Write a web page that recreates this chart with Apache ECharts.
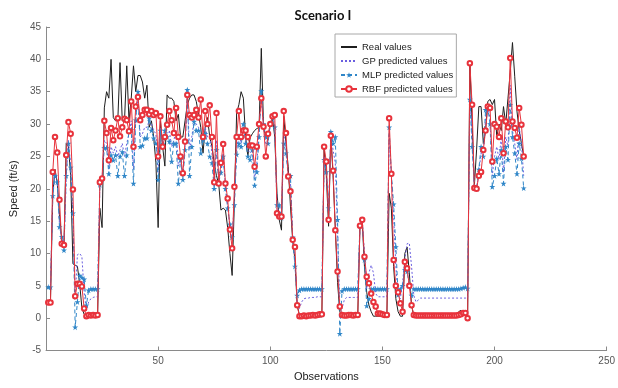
<!DOCTYPE html>
<html><head><meta charset="utf-8">
<script src="https://cdn.jsdelivr.net/npm/echarts@6/dist/echarts.min.js"></script>
<style>html,body{margin:0;padding:0;background:#fff}#c{width:618px;height:388px}</style>
</head><body><div id="c"></div><script>
const realValues = [
2.5, 3, 19, 23, 21, 16, 12, 11, 27, 26.5,
22, 8.4, 8.2, 8, 5.3, 1.6, 0.6, 0.3, 0.3, 0.3,
0.3, 0.3, 0.3, 17, 14, 32.5, 35, 34, 40, 31,
30.5, 30.5, 39.5, 30.5, 30.5, 39, 30.5, 34, 39, 35,
37.5, 37.5, 36.5, 34, 36, 29.5, 30.5, 28, 24, 14,
30.5, 26.5, 23.5, 34.5, 34, 34, 33.5, 30.5, 31.5, 28,
28, 30.5, 33, 34, 34.5, 34.5, 33.5, 31.5, 29.5, 25.5,
29.5, 31, 28, 26.5, 24, 22, 20.8, 16.7, 17, 16.7,
14, 10, 6.6, 18, 31.7, 33, 35, 34, 28, 25,
27.9, 28.5, 29, 29.3, 29.5, 41.7, 29.6, 28, 27.5, 30,
30.9, 28, 19.3, 15.2, 13.6, 31.2, 27, 23.4, 17.3, 12,
9, 2, 0.5, 0.2, 0.2, 0.2, 0.2, 0.2, 0.2, 0.2,
0.2, 0.2, 0.2, 26.2, 22, 14.2, 28.4, 22, 14, 5.5,
1, 0.2, 0.2, 0.2, 0.2, 0.2, 0.2, 0.2, 0.2, 14.5,
15, 8, 4, 2, 1, 0.3, 0.3, 0.3, 0.3, 0.3,
0.3, 0.3, 19.3, 17, 8, 3, 1, 0.3, 0.3, 10,
11, 7, 2, 0.3, 0.2, 0.2, 0.2, 0.2, 0.2, 0.2,
0.2, 0.2, 0.2, 0.2, 0.2, 0.2, 0.2, 0.2, 0.2, 0.2,
0.2, 0.2, 0.2, 1, 1.2, 0.8, 0.3, 0.2, 39.4, 30,
20.5, 26, 32.7, 32.7, 27, 29, 33.5, 33.8, 33, 33.8,
28, 30, 29, 32.7, 30, 34, 38, 42.6, 37.4, 32,
29, 27, 25
];
const gpValues = [
4.8, 5, 19, 22.5, 21, 14.5, 12.5, 11, 21.5, 27.5,
23.5, 16, 3, 9.8, 10, 9.5, 4, 1.2, 2.5, 3,
3.2, 3.3, 3.3, 20.5, 21.5, 27.5, 27, 23, 26.5, 25.5,
26.5, 25, 26, 27, 25, 27, 28.5, 30.5, 23, 31,
34, 28, 28.5, 29.5, 29.5, 30.5, 30, 29, 28.5, 22.5,
29.5, 27, 28.5, 28.5, 29, 26.5, 27.5, 29, 23.5, 24.5,
22, 26.5, 34.5, 26, 28, 30.5, 30, 29.5, 28.5, 27.5,
29.5, 28, 28, 25.5, 21, 27.5, 21, 23, 25.5, 20.5,
17.5, 14, 12, 18.5, 26, 28.5, 27, 29.5, 28, 26,
25.5, 26, 21.5, 24, 28.5, 34.5, 29.5, 27, 27.5, 30,
31, 30, 17, 16.5, 15.5, 29, 26.5, 22, 21, 12.5,
9, 2.5, 1.5, 2.5, 3, 3.1, 3.1, 3.2, 3.2, 3.2,
3.3, 3.3, 3.3, 25, 23, 16, 28.5, 26, 24, 13,
2, 1.5, 2.8, 3.2, 3.2, 3.2, 3.2, 3.2, 3.2, 14.5,
15, 10, 4.5, 7, 8.2, 7, 3.8, 3.3, 3.3, 3.3,
3.3, 3.3, 28.5, 22, 16, 8, 3.5, 3, 5.5, 9,
11.5, 11.6, 8, 3.5, 2.5, 2.8, 3.1, 3.1, 3.1, 3.1,
3.1, 3.1, 3.1, 3.1, 3.1, 3.1, 3.1, 3.1, 3.1, 3.1,
3.1, 3.1, 3.1, 3.1, 3.1, 3.1, 3.1, 3.1, 34.5, 28,
20.5, 20, 22.5, 25.5, 25.5, 31, 32.5, 31, 22, 25,
26.5, 24.5, 28, 22.5, 28, 26.5, 36, 29, 27, 24.5,
29.5, 27, 22
];
const mlpValues = [
4.8, 4.8, 18.9, 22, 21, 14.1, 12.6, 10.5, 22, 27,
23.3, 16.2, -1.4, 2.5, 6.6, 6.3, 6, 2, 4.3, 4.5,
4.5, 4.5, 4.5, 20.6, 21.5, 26.3, 26.3, 22.3, 25.2, 24.4,
25.2, 22, 25, 25.7, 22, 25.2, 29.1, 29.1, 20.8, 30.6,
35, 26.5, 26.7, 27.8, 27.8, 30.9, 29, 27.8, 27, 21.4,
29, 27, 29, 28, 27.3, 24.2, 27, 27, 20.8, 24.5,
21.4, 26, 35.3, 22, 26.5, 30.4, 29, 29, 25.5, 27.5,
28.5, 27, 25, 24, 20, 26, 21, 22.5, 25, 20,
17, 14.5, 12.5, 17.5, 25.3, 27, 26.5, 30, 27, 25,
24.5, 26, 20.5, 22.6, 28, 35.1, 30, 28, 27, 30,
31, 29.5, 17.5, 17.5, 15.5, 27, 25.5, 22, 22, 12.5,
8, 3.5, 4.3, 4.5, 4.5, 4.5, 4.5, 4.5, 4.5, 4.5,
4.5, 4.5, 4.5, 24.5, 22.6, 17, 28.8, 27, 28, 15.2,
-2.4, 4.2, 4.5, 4.5, 4.5, 4.5, 4.5, 4.5, 4.5, 14.3,
15.2, 9, 1.9, 3, 4.5, 4.5, 4.5, 4.5, 4.5, 4.5,
4.5, 4.5, 29.5, 22.3, 17.6, 11, 3.6, 4.5, 5, 7.5,
7.2, 5, 3.5, 4.5, 4.5, 4.5, 4.5, 4.5, 4.5, 4.5,
4.5, 4.5, 4.5, 4.5, 4.5, 4.5, 4.5, 4.5, 4.5, 4.5,
4.5, 4.5, 4.5, 4.5, 4.6, 4.7, 4.8, 4.6, 33.8, 26.5,
20.3, 20, 23, 26.5, 25, 32.2, 32.5, 30, 20.3, 22,
24.7, 22.3, 26, 20.8, 26.5, 24.5, 33, 28, 25.5, 22.3,
27, 24.7, 20.1
];
const rbfValues = [
2.4, 2.4, 22.6, 28, 25.6, 18.3, 11.5, 11.3, 25.2, 30.3,
28.5, 19.9, 3.4, 5.3, 5.3, 4.9, 1.5, 0.3, 0.5, 0.4,
0.5, 0.4, 0.5, 21, 21.6, 30.5, 28.6, 24.4, 29.4, 27.5,
29, 30.9, 28.1, 29.5, 30.8, 30.6, 28.9, 33.5, 26.5, 32.7,
34.2, 30.6, 31.4, 32.2, 32.2, 31.5, 32, 31.4, 31.7, 25,
31.2, 26.5, 28, 29.9, 32, 30.6, 28.6, 32.5, 28, 25,
22.4, 27.3, 34.5, 31.4, 31, 31.4, 32.2, 31, 33.8, 28,
32, 30, 32.9, 28, 21, 31.7, 20.8, 24, 26.9, 20.8,
18.5, 13.7, 10.8, 20.3, 28, 32, 28, 29, 29, 28,
26.7, 26.7, 23.4, 26.5, 30, 34, 29.6, 25, 28.5, 30,
31.2, 31.4, 16.2, 15.7, 15.7, 32, 28.6, 21.9, 19.6, 12.1,
11, 2, 0.3, 0.3, 0.4, 0.3, 0.4, 0.4, 0.5, 0.4,
0.5, 0.6, 0.6, 26.5, 24.2, 15.2, 28.2, 22.8, 13.6, 7.2,
1.8, 0.5, 0.4, 0.4, 0.5, 0.5, 0.4, 0.5, 0.5, 14.3,
15.2, 9.5, 6.4, 5.4, 3.8, 2.5, 1.8, 0.7, 0.7, 0.6,
0.5, 0.5, 30.9, 22.3, 9, 5, 4, 2.3, 1, 8.7,
7.7, 5, 2, 0.5, 0.4, 0.4, 0.4, 0.4, 0.4, 0.4,
0.4, 0.4, 0.4, 0.4, 0.4, 0.4, 0.4, 0.4, 0.4, 0.4,
0.4, 0.4, 0.4, 0.5, 0.6, 0.8, 0.8, 0, 39.4, 33,
20.1, 20, 22, 22.6, 26, 29, 32.7, 32.5, 24.2, 30,
29.6, 28, 30.9, 25.5, 30.4, 29.5, 40.2, 30.4, 29.4, 27.9,
32.5, 29.9, 25
];
const seriesNames = ['Real values', 'GP predicted values', 'MLP predicted values', 'RBF predicted values'];
const xRange = [0, 250, 50];
const yRange = [-5, 45, 5];

const observations = realValues.map((_, i) => i + 1);
const pairs = arr => arr.map((v, i) => [observations[i], v]);
const star = 'path://M50,0 L61.2,34.5 L97.6,34.5 L68.2,55.9 L79.4,90.5 L50,69.1 L20.6,90.5 L31.8,55.9 L2.4,34.5 L38.8,34.5 Z';
const FONT = '"Liberation Sans", Arial, sans-serif';

const chart = echarts.init(document.getElementById('c'), null, {renderer: 'canvas'});
chart.setOption({
  animation: false,
  backgroundColor: '#fff',
  graphic: [{
    type: 'text', x: 323, y: 15.5,
    style: {text: 'Scenario I', font: 'bold 13px Lato, "Open Sans", sans-serif', fill: '#111',
      align: 'center', verticalAlign: 'middle', textAlign: 'center', textVerticalAlign: 'middle'}
  }],
  grid: {left: 37, right: 9.5, top: 27, bottom: 37.5, containLabel: false},
  legend: {
    orient: 'vertical', left: 335, top: 34,
    data: [
      {name: seriesNames[0], itemStyle: {opacity: 0}},
      {name: seriesNames[1], itemStyle: {opacity: 0}},
      {name: seriesNames[2]},
      {name: seriesNames[3]}
    ],
    backgroundColor: '#fff', borderColor: '#a8a8a8', borderWidth: 1, borderRadius: 0,
    padding: [8, 3, 3, 5], itemGap: 4, itemWidth: 16, itemHeight: 7,
    textStyle: {fontFamily: FONT, fontSize: 9.5, color: '#222'},
    selectedMode: false
  },
  xAxis: {
    type: 'value', min: xRange[0], max: xRange[1], interval: xRange[2],
    name: 'Observations', nameLocation: 'middle', nameGap: 19,
    nameTextStyle: {fontFamily: FONT, fontSize: 11, color: '#222'},
    axisLine: {show: true, onZero: false, lineStyle: {color: '#8a8a8a', width: 1}},
    axisTick: {show: true, inside: true, length: 4, lineStyle: {color: '#8a8a8a'}},
    axisLabel: {showMinLabel: false, fontFamily: FONT, fontSize: 10, color: '#555', margin: 6},
    splitLine: {show: false}
  },
  yAxis: {
    type: 'value', min: yRange[0], max: yRange[1], interval: yRange[2],
    name: 'Speed (ft/s)', nameLocation: 'middle', nameGap: 20, nameRotate: 90,
    nameTextStyle: {fontFamily: FONT, fontSize: 11, color: '#222'},
    axisLine: {show: true, onZero: false, lineStyle: {color: '#8a8a8a', width: 1}},
    axisTick: {show: true, inside: true, length: 4, lineStyle: {color: '#8a8a8a'}},
    axisLabel: {fontFamily: FONT, fontSize: 10, color: '#555', margin: 5},
    splitLine: {show: false}
  },
  series: [
    {name: seriesNames[0], type: 'line', data: pairs(realValues), symbol: 'none', silent: true,
      lineStyle: {color: '#1e1e1e', width: 1}, itemStyle: {color: '#1e1e1e'}, z: 2},
    {name: seriesNames[1], type: 'line', data: pairs(gpValues), symbol: 'none', silent: true,
      lineStyle: {color: '#6a5fe0', width: 1, type: [2, 2]}, itemStyle: {color: '#6a5fe0'}, z: 3},
    {name: seriesNames[2], type: 'line', data: pairs(mlpValues), symbol: star, symbolSize: 6, showAllSymbol: true, silent: true,
      lineStyle: {color: '#2f86c8', width: 1, type: [4, 3]}, itemStyle: {color: '#2f86c8'}, z: 4},
    {name: seriesNames[3], type: 'line', data: pairs(rbfValues), symbol: 'emptyCircle', symbolSize: 4.5, showAllSymbol: true, silent: true,
      lineStyle: {color: '#e8333c', width: 1}, itemStyle: {color: '#e8333c', borderWidth: 1}, z: 5}
  ]
});
</script></body></html>
